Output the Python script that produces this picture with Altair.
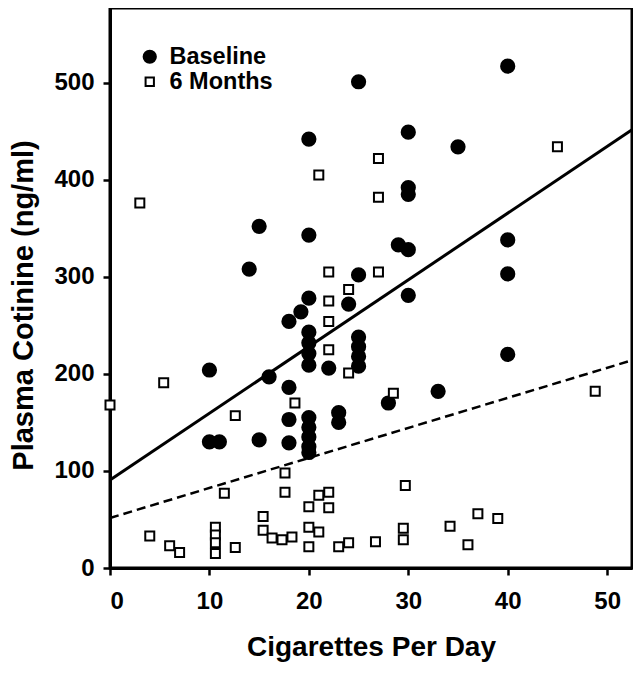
import altair as alt
import pandas as pd

groups = ["Baseline", "6 Months"]

base_x = [25, 40, 20, 30, 35, 15, 20, 30, 30, 14, 29, 30, 40, 25, 40, 30,
          20, 19.2, 18, 24, 20, 20, 20, 20, 22, 25, 25, 25, 25, 10, 16, 40,
          18, 33, 28, 23, 23, 18, 10, 11, 15, 18, 20, 20, 20, 20, 20]
base_y = [501, 517, 442, 449, 434, 352, 343, 392, 385, 308, 333, 328, 338, 302, 303, 281,
          278, 264, 254, 272, 243, 232, 221, 209, 206, 238, 228, 218, 208, 204, 197, 220,
          186, 182, 170, 160, 150, 153, 130, 130, 132, 129, 155, 145, 135, 125, 119]

m6_x = [45, 27, 21, 27, 3, 22, 27, 24, 22, 22, 22, 24, 5.4, 0, 18.6, 28.5, 48.8,
        12.6, 17.6, 17.6, 11.5, 21, 22, 22, 20, 29.7, 4, 6, 7, 10.6, 10.6, 10.6, 10.6,
        12.6, 15.4, 15.4, 16.3, 17.3, 18.3, 20, 21, 20, 23, 24, 26.7, 29.5, 29.5,
        34.2, 36, 37, 39]
m6_y = [434, 422, 405, 382, 376, 305, 305, 287, 275, 254, 225, 201, 191, 168, 170, 180, 182,
        157, 98, 78, 77, 75, 78, 62, 63, 85, 33, 23, 16, 42, 34, 26, 15,
        21, 53, 39, 31, 29, 32, 42, 37, 22, 22, 26, 27, 41, 29,
        43, 24, 56, 51]

fit_x = [0, 52.5]
base_fit = [90.7, 451.5]
m6_fit = [51.5, 214]

x_ticks = [0, 10, 20, 30, 40, 50]
y_ticks = [0, 100, 200, 300, 400, 500]

pts = pd.DataFrame({
    "cig": base_x + m6_x,
    "cot": base_y + m6_y,
    "group": ["Baseline"] * len(base_x) + ["6 Months"] * len(m6_x),
})
base_line = pd.DataFrame({"cig": fit_x, "cot": base_fit})
m6_line = pd.DataFrame({"cig": fit_x, "cot": m6_fit})

FONT = "Liberation Sans, Arial, sans-serif"

xenc = alt.X("cig:Q", scale=alt.Scale(domain=[0, 52.5], nice=False, zero=False),
             axis=alt.Axis(values=x_ticks, title="Cigarettes Per Day", format="d",
                           titleFontSize=28, titlePadding=20, titleFont=FONT,
                           labelFont=FONT, labelFontSize=24, labelPadding=14))
yenc = alt.Y("cot:Q", scale=alt.Scale(domain=[0, 577], nice=False, zero=False),
             axis=alt.Axis(values=y_ticks, title="Plasma Cotinine (ng/ml)", format="d",
                           titleFontSize=29, titleFont=FONT, titleX=-78, titleY=297,
                           titleBaseline="alphabetic", titleAngle=270, titleAlign="center",
                           labelFont=FONT, labelFontSize=24, labelPadding=9))

leg = alt.Legend(title=None, orient="none", legendX=28, legendY=37,
                 labelFont=FONT, labelFontSize=23.5, labelFontWeight="bold",
                 labelColor="black", symbolSize=150, symbolStrokeWidth=2,
                 labelOffset=8, rowPadding=0)

solid = alt.Chart(base_line).mark_line(color="black", strokeWidth=3).encode(x=xenc, y=yenc)
dashed = alt.Chart(m6_line).mark_line(color="black", strokeWidth=2.5, strokeDash=[9, 5]).encode(x=xenc, y=yenc)

square_path = "M-0.68,-0.68H0.68V0.68H-0.68Z"

points = alt.Chart(pts).mark_point(strokeWidth=2, opacity=1, fillOpacity=1, size=175).encode(
    x=xenc, y=yenc,
    shape=alt.Shape("group:N", scale=alt.Scale(domain=groups, range=["circle", square_path]), legend=leg),
    fill=alt.Fill("group:N", scale=alt.Scale(domain=groups, range=["black", "white"]), legend=leg),
    stroke=alt.Stroke("group:N", scale=alt.Scale(domain=groups, range=["black", "black"]), legend=leg),
)

chart = alt.layer(solid, dashed, points).properties(
    width=522, height=560,
    autosize=alt.AutoSizeParams(type="none"),
    padding={"left": 102, "top": 0, "right": 1, "bottom": 97},
    background="white",
).configure_view(stroke="black", strokeWidth=3).configure_axis(
    domainColor="black", domainWidth=3, tickColor="black", tickWidth=2.5, tickSize=7,
    grid=False, labelColor="black", titleColor="black", labelFontWeight="bold",
    titleFontWeight="bold",
)

chart.save("out.html", embed_options={"renderer": "svg", "actions": False})
